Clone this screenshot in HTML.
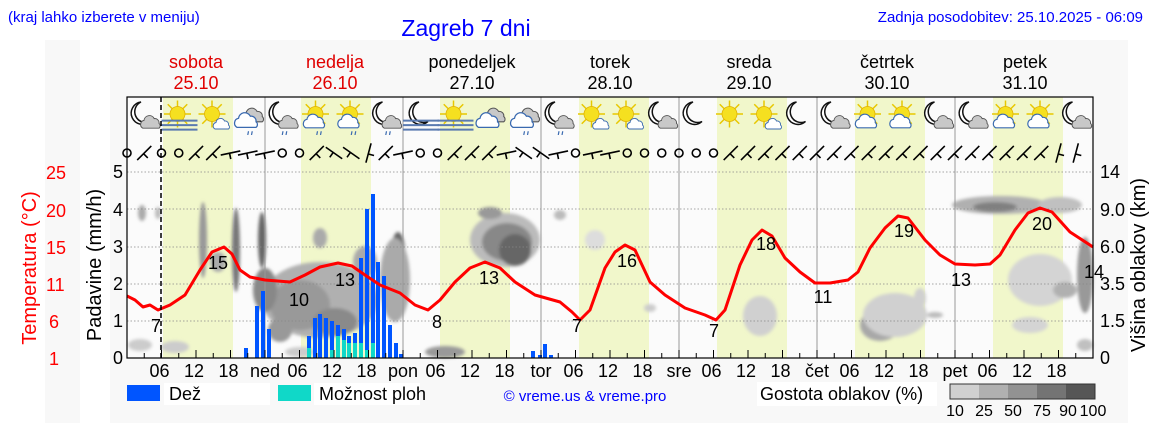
<!DOCTYPE html>
<html><head><meta charset="utf-8"><style>
body{margin:0;background:#fff}
svg{display:block;font-family:"Liberation Sans",sans-serif}
</style></head><body>
<svg id="s" width="1152" height="443" viewBox="0 0 1152 443" xmlns="http://www.w3.org/2000/svg">
<defs>
<filter id="bl" x="-50%" y="-50%" width="200%" height="200%"><feGaussianBlur stdDeviation="1.5"/></filter>
<symbol id="moon" viewBox="0 0 40 40"><path d="M20 4 A15 15 0 1 0 32 30 A13 13 0 1 1 20 4 Z" fill="#fff" stroke="#111" stroke-width="2"/></symbol>
<symbol id="sun" viewBox="0 0 40 40"><g stroke="#e8c800" stroke-width="2"><line x1="20" y1="2" x2="20" y2="38"/><line x1="2" y1="20" x2="38" y2="20"/><line x1="7" y1="7" x2="33" y2="33"/><line x1="33" y1="7" x2="7" y2="33"/></g><circle cx="20" cy="20" r="10" fill="#f5e020" stroke="#e0b000"/></symbol>
<symbol id="cloudg" viewBox="0 0 40 40"><path d="M8 32 a7 7 0 0 1 2-13 a9 9 0 0 1 17-3 a7 7 0 0 1 8 8 a5 5 0 0 1 0 8 Z" fill="#c8c8c8" stroke="#555" stroke-width="1.6"/></symbol>
<symbol id="cloudb" viewBox="0 0 40 40"><path d="M8 32 a7 7 0 0 1 2-13 a9 9 0 0 1 17-3 a7 7 0 0 1 8 8 a5 5 0 0 1 0 8 Z" fill="#fff" stroke="#3a6ab0" stroke-width="1.8"/></symbol>
<symbol id="fog" viewBox="0 0 40 40"><g stroke="#5a7ab0" stroke-width="2.2"><line x1="0" y1="24" x2="40" y2="24"/><line x1="0" y1="29" x2="40" y2="29"/><line x1="0" y1="34" x2="40" y2="34"/></g></symbol>
<symbol id="rain" viewBox="0 0 40 40"><g stroke="#3a6ab0" stroke-width="1.6"><line x1="16" y1="35" x2="15" y2="40"/><line x1="21" y1="35" x2="20" y2="40"/></g></symbol>
</defs>
<rect x="45" y="40" width="35" height="383" fill="#f8f8f8"/>
<rect x="110" y="40" width="1018" height="383" fill="#f8f8f8"/>
<rect x="127" y="97" width="966" height="261" fill="#fbfbfb"/>
<g id="day" fill="#f1f7cb"></g>
<g id="clouds" filter="url(#bl)"></g>
<g id="grid" stroke="#888" stroke-width="0.8" stroke-dasharray="1.5,2"></g>
<g id="vl" stroke="#999" stroke-width="1"></g>
<g id="bars"></g>
<g id="icons"></g>
<g id="wind" stroke="#000" stroke-width="1.6" fill="none"></g>
<polyline id="temp" fill="none" stroke="#f00" stroke-width="3" stroke-linejoin="round"/>
<line x1="161" y1="97" x2="161" y2="358" stroke="#000" stroke-width="1.5" stroke-dasharray="5,3"/>
<rect x="127" y="97" width="966" height="261" fill="none" stroke="#000" stroke-width="1.2"/>
<g id="ticks" stroke="#000" stroke-width="1"></g>

<text x="8" y="22" font-size="15" fill="#0000ff">(kraj lahko izberete v meniju)</text>
<text x="466" y="36" font-size="23" fill="#0000ff" text-anchor="middle">Zagreb 7 dni</text>
<text x="1143" y="22" font-size="15" fill="#0000ff" text-anchor="end">Zadnja posodobitev: 25.10.2025 - 06:09</text>

<g font-size="18" text-anchor="middle">
<text x="196" y="68" fill="#e00000">sobota</text><text x="196" y="89" fill="#e00000">25.10</text>
<text x="335" y="68" fill="#e00000">nedelja</text><text x="335" y="89" fill="#e00000">26.10</text>
<text x="472" y="68">ponedeljek</text><text x="472" y="89">27.10</text>
<text x="610" y="68">torek</text><text x="610" y="89">28.10</text>
<text x="749" y="68">sreda</text><text x="749" y="89">29.10</text>
<text x="887" y="68">četrtek</text><text x="887" y="89">30.10</text>
<text x="1025" y="68">petek</text><text x="1025" y="89">31.10</text>
</g>

<g font-size="18" fill="#f00">
<text x="46" y="179">25</text><text x="46" y="217">20</text><text x="46" y="254">15</text><text x="46" y="291">11</text><text x="49" y="328">6</text><text x="49" y="365">1</text>
</g>
<text transform="translate(36,268) rotate(-90)" font-size="20" fill="#f00" text-anchor="middle">Temperatura (°C)</text>
<text transform="translate(101,265) rotate(-90)" font-size="20" text-anchor="middle">Padavine (mm/h)</text>
<g font-size="18" text-anchor="middle">
<text x="118" y="178">5</text><text x="118" y="216">4</text><text x="118" y="253">3</text><text x="118" y="290">2</text><text x="118" y="327">1</text><text x="118" y="364">0</text>
</g>
<g font-size="18">
<text x="1100" y="178">14</text><text x="1100" y="216">9.0</text><text x="1100" y="253">6.0</text><text x="1100" y="290">3.5</text><text x="1100" y="327">1.5</text><text x="1100" y="364">0</text>
</g>
<text transform="translate(1145,265) rotate(-90)" font-size="20" text-anchor="middle">Višina oblakov (km)</text>

<g id="xl" font-size="18" text-anchor="middle"></g>
<g font-size="18" text-anchor="middle">
<text x="156" y="332">7</text><text x="218" y="269">15</text><text x="299" y="306">10</text><text x="345" y="286">13</text><text x="437" y="328">8</text><text x="489" y="284">13</text><text x="577" y="332">7</text><text x="627" y="267">16</text><text x="714" y="337">7</text><text x="766" y="250">18</text><text x="823" y="303">11</text><text x="904" y="237">19</text><text x="961" y="286">13</text><text x="1042" y="230">20</text><text x="1094" y="278">14</text>
</g>

<rect x="164" y="383" width="106" height="22" fill="#fff"/>
<rect x="314" y="383" width="106" height="22" fill="#fff"/>
<rect x="127" y="385" width="33" height="16" fill="#0055ff"/>
<text x="169" y="400" font-size="18">Dež</text>
<rect x="278" y="385" width="33" height="16" fill="#10d8c8"/>
<text x="319" y="400" font-size="18">Možnost ploh</text>
<text x="585" y="401" font-size="15" fill="#0000ff" text-anchor="middle">© vreme.us &amp; vreme.pro</text>
<rect x="757" y="382" width="180" height="24" fill="#fff"/>
<text x="760" y="400" font-size="18">Gostota oblakov (%)</text>
<rect x="950" y="384" width="29" height="15" fill="#d0d0d0"/>
<rect x="979" y="384" width="29" height="15" fill="#b0b0b0"/>
<rect x="1008" y="384" width="29" height="15" fill="#929292"/>
<rect x="1037" y="384" width="29" height="15" fill="#747474"/>
<rect x="1066" y="384" width="29" height="15" fill="#565656"/>
<rect x="950" y="384" width="145" height="15" fill="none" stroke="#333"/>
<g font-size="16" text-anchor="middle"><text x="955" y="416">10</text><text x="984" y="416">25</text><text x="1013" y="416">50</text><text x="1042" y="416">75</text><text x="1068" y="416">90</text><text x="1093" y="416">100</text></g>
</svg>
<script>
var NS="http://www.w3.org/2000/svg";
function el(p,t,a){var e=document.createElementNS(NS,t);for(var k in a)e.setAttribute(k,a[k]);document.getElementById(p).appendChild(e);return e;}
var dayStarts=[163,301,440,579,717,855,993];
dayStarts.forEach(function(x){el("day","rect",{x:x,y:97,width:70,height:261});});
[172,209,247,284,321].forEach(function(y){el("grid","line",{x1:127,x2:1093,y1:y,y2:y});});
for(var d=1;d<7;d++){var m=127+138*d;el("vl","line",{x1:m,x2:m,y1:97,y2:358});}
el("vl","line",{x1:127,x2:1093,y1:358,y2:358,stroke:"#000"});
for(var h=0;h<=56;h++){var x=127+h*17.25;el("ticks","line",{x1:x,x2:x,y1:358,y2:h%2?353:350});}
var ab=["","ned","pon","tor","sre","čet","pet"];
for(var d=0;d<7;d++){var m=127+138*d;if(d>0){var t=el("xl","text",{x:m,y:377});t.textContent=ab[d];}
[["06",34.5],["12",69],["18",103.5]].forEach(function(a){var t=el("xl","text",{x:m+a[1]-2,y:377});t.textContent=a[0];});}
var C=[[142,213,4,8,"#aaa"],[158,213,3,6,"#bbb"],[203,240,4,38,"#999"],[218,262,8,10,"#aaa"],[236,250,4,42,"#777"],
[140,345,12,6,"#ccc"],[175,347,14,6,"#ccc"],
[320,300,58,38,"#b0b0b0"],[300,305,30,25,"#999"],[262,240,4,28,"#666"],[265,290,12,22,"#888"],[335,322,22,14,"#8a8a8a"],
[398,262,8,30,"#666"],[395,280,15,42,"#aaa"],[365,262,12,16,"#aaa"],[320,238,7,10,"#aaa"],[280,330,12,12,"#999"],
[505,240,35,27,"#bbb"],[507,242,25,19,"#888"],[515,250,16,16,"#666"],[490,213,12,6,"#999"],[595,240,10,10,"#ddd"],[560,215,6,5,"#bbb"],
[445,352,20,6,"#999"],[300,352,15,5,"#ccc"],[650,308,6,4,"#ccc"],[760,316,10,14,"#999"],[760,316,17,20,"#d0d0d0"],
[880,325,20,16,"#a8a8a8"],[895,315,32,22,"#d0d0d0"],[935,315,8,3,"#bbb"],[1000,205,48,9,"#b0b0b0"],[995,207,22,5,"#808080"],[1060,205,22,8,"#c0c0c0"],
[1085,275,8,38,"#999"],[1040,280,32,26,"#d4d4d4"],[1065,290,12,8,"#b0b0b0"],[1030,325,18,8,"#d4d4d4"],[1085,345,8,6,"#c0c0c0"],[920,298,6,10,"#d0d0d0"]];
C.forEach(function(c){el("clouds","ellipse",{cx:c[0],cy:c[1],rx:c[2],ry:c[3],fill:c[4]});});
var B=[[246,348],[257,306],[263,291],[269,329],[309,336,348],[315,318],[320,314],[326,318],[332,321,350],[338,325,336],[344,329,340],[349,336,343],[355,333,343],[361,258,343],[367,209,350],[373,194,343],[378,262],[384,276],[390,325],[396,343],[401,354],[533,351],[540,355],[545,344],[551,355]];
B.forEach(function(b){el("bars","rect",{x:b[0]-2,y:b[1],width:4,height:358-b[1],fill:"#0055ff"});
if(b[2])el("bars","rect",{x:b[0]-2,y:b[2],width:4,height:358-b[2],fill:"#10d8c8"});});
var T=[[127,296],[135,300],[143,307],[150,305],[158,310],[170,305],[185,295],[200,270],[212,252],[224,247],[232,254],[240,270],[250,277],[265,280],[290,282],[305,275],[320,267],[338,263],[352,266],[365,275],[380,285],[400,293],[415,305],[428,310],[440,300],[455,282],[470,268],[485,262],[500,268],[515,282],[535,295],[560,302],[572,312],[580,320],[590,310],[605,268],[615,252],[625,245],[635,250],[650,282],[665,295],[685,308],[705,315],[716,320],[725,310],[740,265],[752,240],[762,230],[772,236],[785,258],[800,272],[815,283],[830,283],[848,280],[858,272],[870,248],[885,228],[898,216],[908,218],[925,240],[940,255],[955,264],[975,265],[990,264],[1000,255],[1015,230],[1028,213],[1040,208],[1052,212],[1070,232],[1093,247]];
document.getElementById("temp").setAttribute("points",T.map(function(p){return p.join(",")}).join(" "));
var I=["mc","fs","ss","cr","mcr","scr","scr","mcr","fm","fs","c","cr","mcr","ss","ss","mc","m","s","ss","m","mc","sc","sc","mc","mc","sc","sc","mc"];
function use(id,x,y,w){el("icons","use",{href:"#"+id,x:x,y:y,width:w,height:w});}
I.forEach(function(k,i){var cx=145+34.5*i,x=cx-17,y=99;
if(k[0]=="m"){use("moon",x-2,y,30);}
if(k[0]=="s"||k=="fs"){use("sun",x,y,30);}
if(k=="fm"){use("moon",x,y,30);}
if(k[0]=="f")use("fog",x-1,y,36);
if(k=="mc"||k=="mcr"){use("cloudg",x+10,y+10,24);}
if(k=="ss"){use("cloudb",x+14,y+14,20);}
if(k=="sc"||k=="scr"){use("cloudb",x,y+8,26);}
if(k=="c"||k=="cr"){use("cloudg",x+8,y+2,26);use("cloudb",x,y+6,28);}
if(k=="cr"||k=="mcr"||k=="scr")use("rain",x+5,y+6,30);
});
var W="o a o o a a c c c o o a b b v a c o o a a a c b b c o c c o o o o o o a a a a a a a a a a a a a a a a a a a v v".split(" ");
var ang={a:-45,b:35,c:-12,v:-75};
for(var i=0;i<56;i++){var x=127+i*17.25,y=153,w=W[i]||"a";
if(w=="o"){el("wind","circle",{cx:x,cy:y,r:4});}
else{var a=ang[w]*Math.PI/180,dx=Math.cos(a)*10,dy=Math.sin(a)*10;
el("wind","line",{x1:x-dx,y1:y-dy,x2:x+dx,y2:y+dy});
el("wind","line",{x1:x-dx*0.1,y1:y-dy*0.1,x2:x-dx*0.1+Math.sin(a)*-6,y2:y-dy*0.1+Math.cos(a)*6});}}
</script>
</body></html>
